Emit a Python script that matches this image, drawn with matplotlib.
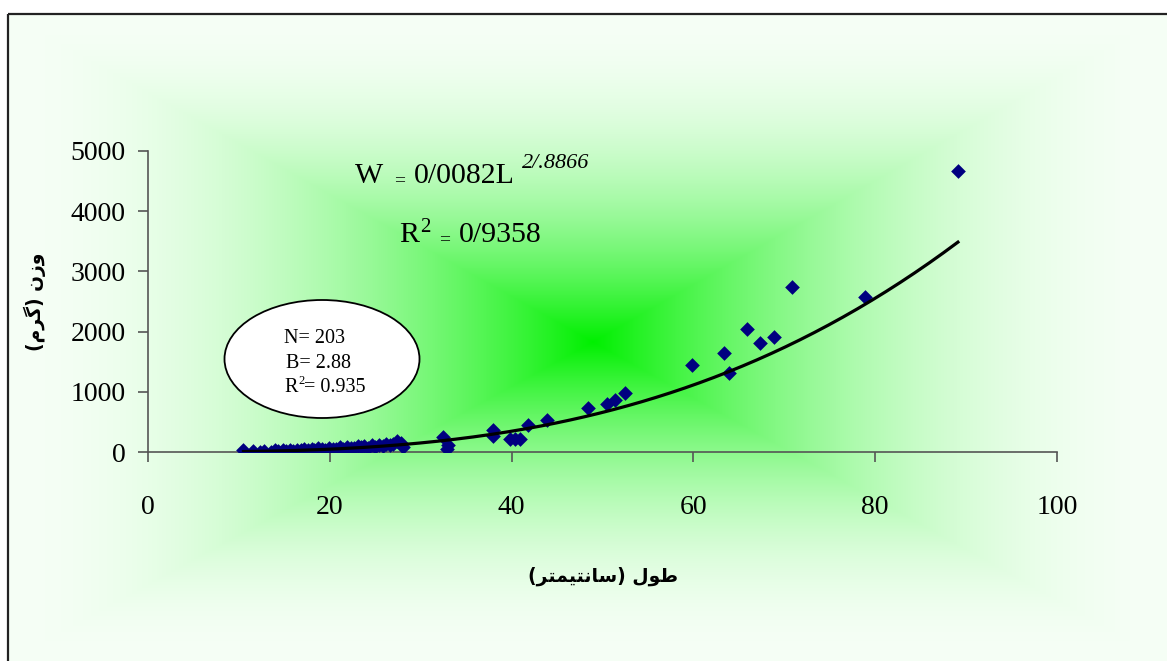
import numpy as np
import matplotlib
matplotlib.use("Agg")
import matplotlib.pyplot as plt
from matplotlib.patches import Ellipse

# ---- data ----
length_cm = [10.5, 11.5, 12.3, 12.8, 13.5, 14.0, 14.3, 14.8, 15.2, 15.6, 16.0, 16.4,
             16.8, 17.2, 17.6, 18.0, 18.3, 18.7, 19.1, 19.5, 19.9, 20.3, 20.7, 21.1,
             21.5, 21.9, 22.3, 22.7, 23.1, 23.4, 23.8, 24.2, 24.6, 25.0, 25.4, 25.8,
             26.2, 26.6, 27.0, 27.4, 27.8, 28.1,
             32.4, 32.9, 33.0, 37.9, 37.9, 39.8, 40.4, 40.9, 41.8, 43.9,
             48.4, 50.5, 51.4, 52.5, 59.9, 63.4, 63.9, 65.9, 67.3, 68.9,
             70.9, 78.9, 89.1]
weight_g = [40, 10, 5, 15, 8, 25, 12, 30, 18, 35, 22, 40,
            28, 45, 30, 55, 38, 60, 42, 35, 65, 50, 45, 75,
            55, 90, 70, 60, 100, 80, 95, 70, 110, 90, 120, 100,
            130, 110, 140, 190, 150, 90,
            244, 45, 116, 365, 270, 211, 211, 211, 448, 531,
            736, 797, 864, 985, 1451, 1650, 1307, 2043, 1810, 1916,
            2745, 2580, 4668]
coef_a = 0.0082
coef_b = 2.8866
x_ticks = [0, 20, 40, 60, 80, 100]
y_ticks = [0, 1000, 2000, 3000, 4000, 5000]
stats_n = "N= 203"
stats_b = "B= 2.88"
stats_r2 = "0.935"
x_label = "(" + "\uFEAE\uFE98\uFEE4\uFEF4\uFE98\uFEE7\uFE8E\uFEB3" + ")" + " " + "\uFEDD\uFEEE\uFEC3"   # طول (سانتیمتر)
y_label = "(" + "\uFEE1\uFEAE\uFB94" + ")" + " " + "\uFEE5\uFEAF\uFEED"                          # وزن (گرم)

W, H = 1167, 661
fig = plt.figure(figsize=(W / 100, H / 100), dpi=100)

# ---- background gradient (pixel coordinates) ----
bg = fig.add_axes([0, 0, 1, 1])
bg.set_xlim(0, W)
bg.set_ylim(H, 0)
bg.axis("off")
xs = np.arange(W) + 0.5
ys = np.arange(H) + 0.5
X, Y = np.meshgrid(xs, ys)
cx, cy = 593, 342
tx = np.where(X < cx, (cx - X) / (cx - 8), (X - cx) / (W - cx))
ty = np.where(Y < cy, (cy - Y) / (cy - 14), (Y - cy) / (H - cy))
t = np.clip(np.maximum(tx, ty), 0, 1)
f = 1 - (1 - t) ** 2
c0 = np.array([0, 240, 0]) / 255
c1 = np.array([246, 255, 246]) / 255
img = c0 + (c1 - c0) * f[..., None]
outside = (X < 8) | (Y < 14)
img[outside] = 1.0
bg.imshow(img, extent=(0, W, H, 0), interpolation="bilinear", aspect="auto")
bg.plot([7.5, 7.5], [H, 13.5], color="#222222", lw=1.6, solid_capstyle="butt")
bg.plot([7.5, W], [13.5, 13.5], color="#222222", lw=1.6, solid_capstyle="butt")

# ---- main axes ----
ax = fig.add_axes([148 / W, 1 - 452 / H, 909 / W, 301 / H])
ax.patch.set_alpha(0)
ax.set_xlim(0, 100)
ax.set_ylim(0, 5000)
for s in ["top", "right"]:
    ax.spines[s].set_visible(False)
for s in ["left", "bottom"]:
    ax.spines[s].set_color("#555555")
    ax.spines[s].set_linewidth(1.2)
ax.set_xticks(x_ticks)
ax.set_yticks(y_ticks)
ax.tick_params(axis="both", direction="out", length=7.2, width=1.2, color="#555555")
ax.tick_params(axis="x", pad=24)
ax.tick_params(axis="y", pad=9)
for lab in ax.get_xticklabels() + ax.get_yticklabels():
    lab.set_fontfamily("Liberation Serif")
    lab.set_fontsize(20)

ax.scatter(length_cm, weight_g, marker="D", s=56, color="#000080", zorder=3, linewidths=0)
Lfit = np.linspace(min(length_cm), max(length_cm), 200)
ax.plot(Lfit, coef_a * Lfit ** coef_b, color="black", lw=2.3, zorder=4)

# ---- axis titles ----
bg.text(603, 576, x_label, ha="center", va="center", fontsize=13.5, fontweight="bold",
        family=["DejaVu Sans"])
bg.text(35, 302, y_label, ha="center", va="center", fontsize=13.5, fontweight="bold",
        family=["DejaVu Sans"], rotation=90)

# ---- equation ----
serif = "Liberation Serif"
bg.text(355, 183, "W", fontsize=21.5, family=serif, ha="left", va="baseline")
bg.text(394, 185, "=", fontsize=14, family=serif, ha="left", va="baseline")
bg.text(414, 183, "0/0082L", fontsize=21.5, family=serif, ha="left", va="baseline")
bg.text(522, 168, "2/.8866", fontsize=16, family=serif, style="italic", ha="left", va="baseline")
bg.text(399, 242, "R", fontsize=21.5, family=serif, ha="left", va="baseline")
bg.text(420, 232, "2", fontsize=15, family=serif, ha="left", va="baseline")
bg.text(439, 244, "=", fontsize=14, family=serif, ha="left", va="baseline")
bg.text(459, 242, "0/9358", fontsize=21.5, family=serif, ha="left", va="baseline")

# ---- stats ellipse ----
bg.add_patch(Ellipse((322, 359), 195, 118, facecolor="white", edgecolor="black", lw=1.3))
bg.text(284, 343, stats_n, fontsize=14.5, family=serif, ha="left", va="baseline")
bg.text(286, 368, stats_b, fontsize=14.5, family=serif, ha="left", va="baseline")
bg.text(284, 392, "R", fontsize=14.5, family=serif, ha="left", va="baseline")
bg.text(298.5, 384, "2", fontsize=9, family=serif, ha="left", va="baseline")
bg.text(304, 392, "= " + stats_r2, fontsize=14.5, family=serif, ha="left", va="baseline")

fig.savefig("out.png", dpi=100)
